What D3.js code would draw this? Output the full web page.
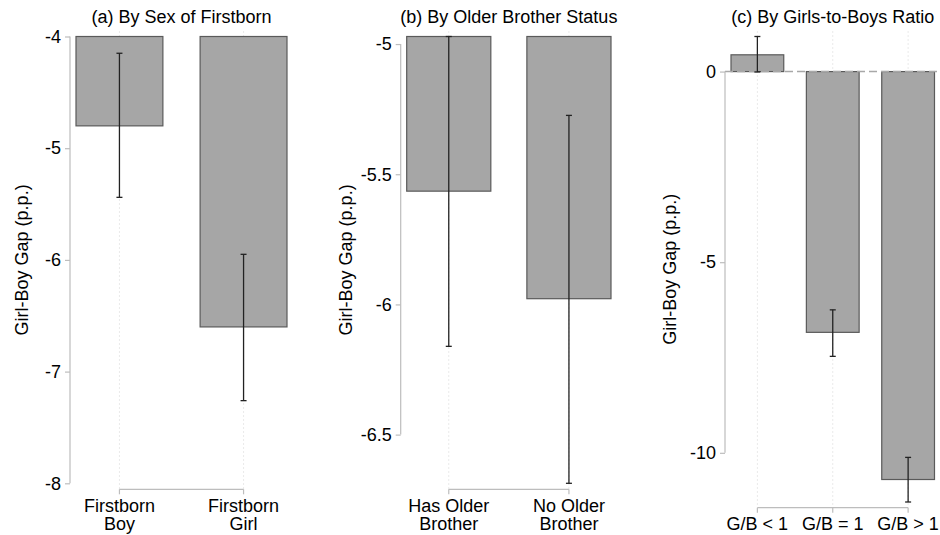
<!DOCTYPE html>
<html>
<head>
<meta charset="utf-8">
<script src="https://cdn.jsdelivr.net/npm/d3@7"></script>
<style>
  body { margin: 0; background: #fff; }
  text { font-family: "Liberation Sans", Arial, sans-serif; fill: #000; }
</style>
</head>
<body>
<div id="chart"></div>
<script>
var svgWidth = 940;
var svgHeight = 535;

// (a) By Sex of Firstborn
var sexLabels = [["Firstborn", "Boy"], ["Firstborn", "Girl"]];
var sexGap = [-4.80, -6.60];
var sexLow = [-5.44, -7.26];
var sexHigh = [-4.15, -5.95];
var sexTicks = [-4, -5, -6, -7, -8];

// (b) By Older Brother Status
var brotherLabels = [["Has Older", "Brother"], ["No Older", "Brother"]];
var brotherGap = [-5.565, -5.978];
var brotherLow = [-6.161, -6.687];
var brotherHigh = [-4.971, -5.274];
var brotherTicks = [-5, -5.5, -6, -6.5];

// (c) By Girls-to-Boys Ratio
var ratioLabels = [["G/B < 1"], ["G/B = 1"], ["G/B > 1"]];
var ratioGap = [0.44, -6.84, -10.70];
var ratioLow = [-0.01, -7.47, -11.29];
var ratioHigh = [0.92, -6.25, -10.12];
var ratioTicks = [0, -5, -10];

var panels = [
  { title: "(a) By Sex of Firstborn", labels: sexLabels, gap: sexGap, low: sexLow, high: sexHigh, ticks: sexTicks,
    axisX: 70, right: 287, bottom: 483.3, xAxisY: 489.3, titleX: 22, zeroLine: false },
  { title: "(b) By Older Brother Status", labels: brotherLabels, gap: brotherGap, low: brotherLow, high: brotherHigh, ticks: brotherTicks,
    axisX: 400.7, right: 611, bottom: 483.3, xAxisY: 489.3, titleX: 346, zeroLine: false },
  { title: "(c) By Girls-to-Boys Ratio", labels: ratioLabels, gap: ratioGap, low: ratioLow, high: ratioHigh, ticks: ratioTicks,
    axisX: 725, right: 934.5, bottom: 502, xAxisY: 507.7, titleX: 670, zeroLine: true }
];

var plotTop = 36.5;

var svg = d3.select("#chart")
  .append("svg")
  .attr("width", svgWidth)
  .attr("height", svgHeight);

panels.forEach(function(p) {
  var g = svg.append("g");
  var idx = d3.range(p.gap.length);

  // y domain covers ticks and confidence intervals
  var yMin = d3.min(p.ticks.concat(p.low));
  var yMax = d3.max(p.ticks.concat(p.high));

  var y = d3.scaleLinear()
    .domain([yMin, yMax])
    .range([p.bottom, plotTop]);

  var x = d3.scaleBand()
    .domain(idx)
    .range([p.axisX + 6, p.right])
    .paddingInner(0.3)
    .paddingOuter(0);

  var cx = function(i) { return x(i) + x.bandwidth() / 2; };

  // dotted vertical grid at categories
  g.selectAll(".grid")
    .data(idx)
    .enter()
    .append("line")
    .attr("x1", cx).attr("x2", cx)
    .attr("y1", plotTop - 5)
    .attr("y2", p.xAxisY)
    .attr("stroke", "#d4d4d4")
    .attr("stroke-width", 1)
    .attr("stroke-dasharray", "1,3");

  // bars, clipped to the plot region
  g.selectAll(".bar")
    .data(idx)
    .enter()
    .append("rect")
    .attr("x", d => x(d))
    .attr("width", x.bandwidth())
    .attr("y", d => y(Math.min(Math.max(p.gap[d], 0), yMax)))
    .attr("height", d => y(Math.max(Math.min(p.gap[d], 0), yMin)) - y(Math.min(Math.max(p.gap[d], 0), yMax)))
    .attr("fill", "#a6a6a6")
    .attr("stroke", "#5a5a5a")
    .attr("stroke-width", 1.2);

  if (p.zeroLine) {
    g.append("line")
      .attr("x1", p.axisX)
      .attr("x2", svgWidth)
      .attr("y1", y(0)).attr("y2", y(0))
      .attr("stroke", "#a8a8a8")
      .attr("stroke-width", 1.5)
      .attr("stroke-dasharray", "8,4");
  }

  // error bars
  var err = g.selectAll(".err")
    .data(idx)
    .enter()
    .append("g")
    .attr("stroke", "#222")
    .attr("stroke-width", 1.3);

  err.append("line")
    .attr("x1", cx).attr("x2", cx)
    .attr("y1", d => y(p.low[d]))
    .attr("y2", d => y(p.high[d]));
  err.append("line")
    .attr("x1", d => cx(d) - 3).attr("x2", d => cx(d) + 3)
    .attr("y1", d => y(p.low[d])).attr("y2", d => y(p.low[d]));
  err.append("line")
    .attr("x1", d => cx(d) - 3).attr("x2", d => cx(d) + 3)
    .attr("y1", d => y(p.high[d])).attr("y2", d => y(p.high[d]));

  // y axis
  var leftAxis = d3.axisLeft(y)
    .tickValues(p.ticks)
    .tickSize(5)
    .tickPadding(4)
    .tickFormat(d3.format("~g"));

  var yAxisG = g.append("g")
    .attr("transform", `translate(${p.axisX}, 0)`)
    .call(leftAxis);
  yAxisG.select(".domain")
    .attr("d", `M0,${y(d3.max(p.ticks))}V${y(d3.min(p.ticks))}`)
    .attr("stroke", "#bdbdbd")
    .attr("stroke-width", 1.2);
  yAxisG.selectAll(".tick line").attr("stroke", "#bdbdbd").attr("stroke-width", 1.2);
  yAxisG.selectAll(".tick text")
    .style("font-size", "18px")
    .attr("fill", "#000")
    .text(d => String(d));

  // x axis: bracket between first and last category
  g.append("line")
    .attr("x1", cx(0)).attr("x2", cx(idx.length - 1))
    .attr("y1", p.xAxisY).attr("y2", p.xAxisY)
    .attr("stroke", "#bdbdbd")
    .attr("stroke-width", 1.2);
  g.selectAll(".xtick")
    .data(idx)
    .enter()
    .append("line")
    .attr("x1", cx).attr("x2", cx)
    .attr("y1", p.xAxisY).attr("y2", p.xAxisY + 5)
    .attr("stroke", "#bdbdbd")
    .attr("stroke-width", 1.2);

  var xl = g.selectAll(".xlab")
    .data(idx)
    .enter()
    .append("text")
    .attr("text-anchor", "middle")
    .style("font-size", "18px");
  xl.each(function(d) {
    var lines = p.labels[d];
    var t = d3.select(this);
    lines.forEach(function(s, k) {
      t.append("tspan")
        .attr("x", cx(d))
        .attr("y", 530 - (lines.length - 1 - k) * 18.3)
        .text(s);
    });
  });

  // panel title
  g.append("text")
    .attr("x", (p.axisX + p.right) / 2 + 3)
    .attr("y", 23)
    .attr("text-anchor", "middle")
    .style("font-size", "18px")
    .text(p.title);

  // y axis title
  g.append("text")
    .attr("transform", `translate(${p.titleX}, ${(plotTop + p.bottom) / 2}) rotate(-90)`)
    .attr("text-anchor", "middle")
    .attr("dominant-baseline", "central")
    .style("font-size", "18px")
    .text("Girl-Boy Gap (p.p.)");
});
</script>
</body>
</html>
